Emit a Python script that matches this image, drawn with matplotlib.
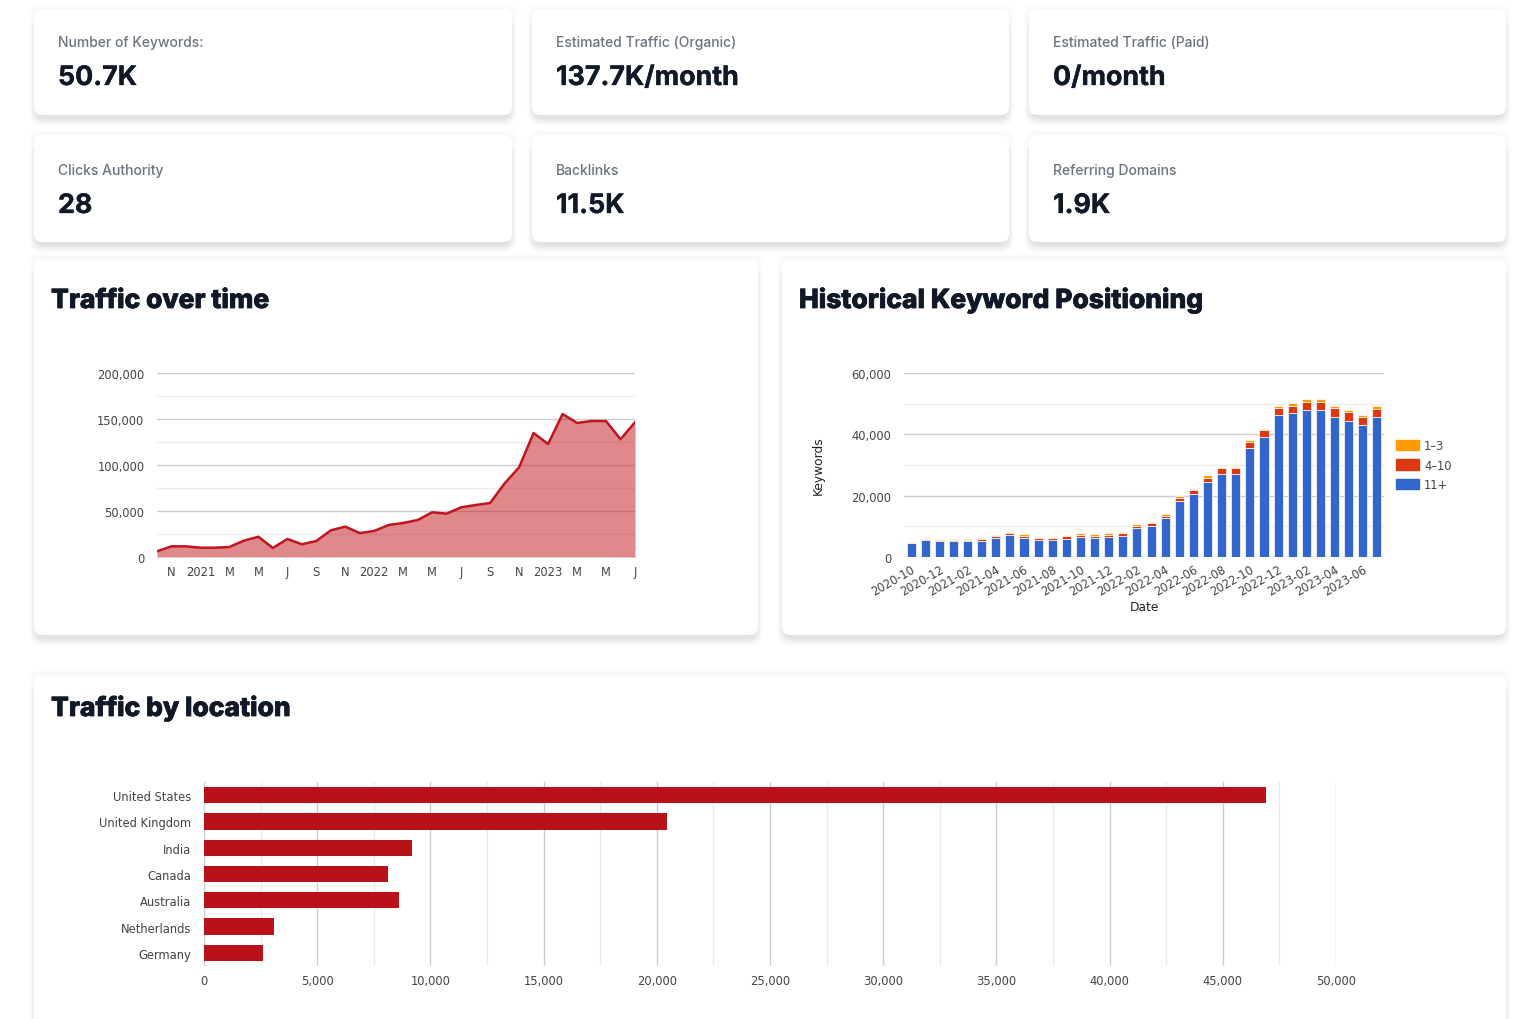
import numpy as np
import pandas as pd
import matplotlib.pyplot as plt
import matplotlib.patheffects as pe
from matplotlib.patches import FancyBboxPatch, Patch
from matplotlib.ticker import MultipleLocator, FuncFormatter

W, H = 1534, 1020

# summary cards
card_labels = ['Number of Keywords:', 'Estimated Traffic (Organic)', 'Estimated Traffic (Paid)',
               'Clicks Authority', 'Backlinks', 'Referring Domains']
card_values = ['50.7K', '137.7K/month', '0/month', '28', '11.5K', '1.9K']

# monthly traffic, Oct 2020 .. Jul 2023
traffic = [6200, 11600, 11600, 10100, 10100, 10900, 17800, 22000, 9800, 19600, 13800, 17400,
           29000, 33000, 26000, 28300, 34800, 37000, 40200, 48600, 47100, 54000, 56500, 58700,
           80000, 97500, 134800, 122800, 155400, 145700, 147800, 147800, 128000, 146400]
traffic_ticks = ['N', '2021', 'M', 'M', 'J', 'S', 'N', '2022', 'M', 'M', 'J', 'S',
                 'N', '2023', 'M', 'M', 'J']

# keyword positions per month
months = [str(p) for p in pd.period_range('2020-10', '2023-07', freq='M')]
kw_11plus = [4470, 5560, 5300, 5300, 5300, 5300, 6200, 7300, 6200, 5700, 5700, 6000, 6600, 6300,
             6600, 7000, 9300, 10200, 12700, 18100, 20700, 24600, 27200, 27200, 35400, 39000,
             46200, 46800, 47800, 47800, 45500, 44300, 42900, 45500]
kw_4_10 = [250, 250, 300, 300, 300, 450, 500, 450, 700, 500, 500, 750, 650, 700,
           700, 950, 900, 770, 800, 1200, 1300, 1300, 1700, 1700, 2200, 2300,
           2400, 2500, 2900, 2900, 3000, 2900, 2600, 2700]
kw_1_3 = [280, 290, 400, 300, 300, 450, 500, 450, 500, 400, 400, 550, 450, 500,
          400, 350, 500, 530, 600, 600, 300, 700, 600, 600, 700, 600,
          700, 800, 700, 900, 800, 600, 900, 900]

# traffic by location
countries = ['United States', 'United Kingdom', 'India', 'Canada', 'Australia', 'Netherlands', 'Germany']
country_traffic = [46900, 20450, 9190, 8130, 8610, 3090, 2610]

TICK = '#444444'
DARK = '#111827'
GRAY = '#6b7280'

fig = plt.figure(figsize=(W / 100, H / 100), dpi=100, facecolor='white')
bg = fig.add_axes([0, 0, 1, 1])
bg.set_xlim(0, W)
bg.set_ylim(H, 0)
bg.axis('off')


def card(x0, y0, x1, y1):
    # faint halo all round, then a softer drop shadow below
    for k in range(4):
        s = 1 + k * 1.5
        bg.add_patch(FancyBboxPatch((x0 - s, y0 - s), x1 - x0 + 2 * s, y1 - y0 + 2 * s,
                                    boxstyle='round,pad=0,rounding_size=10',
                                    fc='black', ec='none', alpha=0.006))
    for k in range(12):
        s = k * 1.2
        bg.add_patch(FancyBboxPatch((x0 + 3 - s / 2, y0 + 4 + s / 2), x1 - x0 - 6 + s, y1 - y0,
                                    boxstyle='round,pad=0,rounding_size=10',
                                    fc='black', ec='none', alpha=0.008))
    bg.add_patch(FancyBboxPatch((x0, y0), x1 - x0, y1 - y0,
                                boxstyle='round,pad=0,rounding_size=8', fc='white', ec='none'))


def px_axes(x0, y0, x1, y1):
    a = fig.add_axes([x0 / W, 1 - y1 / H, (x1 - x0) / W, (y1 - y0) / H])
    a.patch.set_alpha(0)
    return a


col_x = [(34, 512), (532, 1009), (1029, 1506)]
rows = [(10, 116, 47, 86), (136, 243, 175, 214)]
for r, (y0, y1, lab_y, val_y) in enumerate(rows):
    for c, (x0, x1) in enumerate(col_x):
        card(x0, y0, x1, y1)
        i = r * 3 + c
        bg.text(x0 + 24, lab_y, card_labels[i], fontsize=10, color=GRAY, family='Inter',
                fontweight='medium', va='baseline')
        bg.text(x0 + 24, val_y, card_values[i], fontsize=19.3, color=DARK, family='Inter',
                fontweight='bold', va='baseline',
                path_effects=[pe.withStroke(linewidth=0.25, foreground=DARK)])

card(34, 260, 758, 636)
card(782, 260, 1506, 636)
card(34, 676, 1506, 1060)
for tx, ty, title in [(51, 309, 'Traffic over time'), (799, 309, 'Historical Keyword Positioning'),
                      (51, 717, 'Traffic by location')]:
    bg.text(tx, ty, title, fontsize=19, color=DARK, family='Inter', fontweight='heavy',
            va='baseline', path_effects=[pe.withStroke(linewidth=0.55, foreground=DARK)])

thousands = FuncFormatter(lambda v, p: f'{int(v):,}')


def style(a):
    for s in a.spines.values():
        s.set_visible(False)
    a.tick_params(length=0, which='both', colors=TICK, labelsize=8.3)
    a.set_axisbelow(True)


# Traffic over time
ax1 = px_axes(157, 374, 635, 558)
x = np.arange(len(traffic))
ax1.fill_between(x, traffic, color='#c0151d', alpha=0.5, lw=0)
ax1.plot(x, traffic, color='#c0151d', lw=1.8)
ax1.set_xlim(0, len(traffic) - 1)
ax1.set_ylim(0, 200000)
ax1.yaxis.set_major_locator(MultipleLocator(50000))
ax1.yaxis.set_minor_locator(MultipleLocator(25000))
ax1.yaxis.set_major_formatter(thousands)
ax1.grid(axis='y', which='major', color='#cccccc', lw=1)
ax1.grid(axis='y', which='minor', color='#ebebeb', lw=1)
ax1.set_xticks(np.arange(1, len(traffic), 2))
ax1.set_xticklabels(traffic_ticks)
style(ax1)
ax1.tick_params(axis='y', pad=9)
ax1.tick_params(axis='x', pad=6)

# Historical keyword positioning
ax2 = px_axes(904, 374, 1384, 558)
xk = np.arange(len(months))
ax2.bar(xk, kw_11plus, width=0.64, color='#3366cc', edgecolor='white', lw=0.5, label='11+')
ax2.bar(xk, kw_4_10, width=0.64, bottom=kw_11plus, color='#dc3912', edgecolor='white', lw=0.5, label='4-10')
ax2.bar(xk, kw_1_3, width=0.64, bottom=np.add(kw_11plus, kw_4_10), color='#ff9900',
        edgecolor='white', lw=0.5, label='1-3')
ax2.set_xlim(-0.5, len(months) - 0.5)
ax2.set_ylim(0, 60000)
ax2.yaxis.set_major_locator(MultipleLocator(20000))
ax2.yaxis.set_minor_locator(MultipleLocator(10000))
ax2.yaxis.set_major_formatter(thousands)
ax2.grid(axis='y', which='major', color='#cccccc', lw=1)
ax2.grid(axis='y', which='minor', color='#ebebeb', lw=1)
ax2.set_xticks(xk[::2])
ax2.set_xticklabels(months[::2], rotation=30, ha='right', rotation_mode='anchor')
style(ax2)
ax2.tick_params(axis='y', pad=9)
ax2.tick_params(axis='x', pad=4)
ax2.set_ylabel('Keywords', fontsize=8.8, color='#222222')
ax2.yaxis.set_label_coords(-(904 - 825) / 480, 0.5)
ax2.set_xlabel('Date', fontsize=8.8, color='#222222')
ax2.xaxis.set_label_coords(0.5, -(601 - 558) / 184)
ax2.legend(handles=[Patch(color='#ff9900', label='1–3'), Patch(color='#dc3912', label='4–10'),
                    Patch(color='#3366cc', label='11+')],
           loc='center left', bbox_to_anchor=(1.025, 0.5), frameon=False, fontsize=8.3,
           handlelength=2.0, handleheight=1.0, handletextpad=0.45, labelspacing=0.55,
           borderpad=0, borderaxespad=0, labelcolor=TICK)

# Traffic by location
ax3 = px_axes(204, 783, 1336, 967)
yc = np.arange(len(countries))
ax3.barh(yc, country_traffic, height=0.62, color='#b91119')
ax3.set_xlim(0, 50000)
ax3.set_ylim(len(countries) - 0.5, -0.5)
ax3.xaxis.set_major_locator(MultipleLocator(5000))
ax3.xaxis.set_minor_locator(MultipleLocator(2500))
ax3.xaxis.set_major_formatter(thousands)
ax3.grid(axis='x', which='major', color='#cccccc', lw=1)
ax3.grid(axis='x', which='minor', color='#ebebeb', lw=1)
ax3.set_yticks(yc)
ax3.set_yticklabels(countries)
style(ax3)
ax3.tick_params(axis='y', pad=9)
ax3.tick_params(axis='x', pad=6)

fig.savefig('out.png', dpi=100, facecolor='white')
